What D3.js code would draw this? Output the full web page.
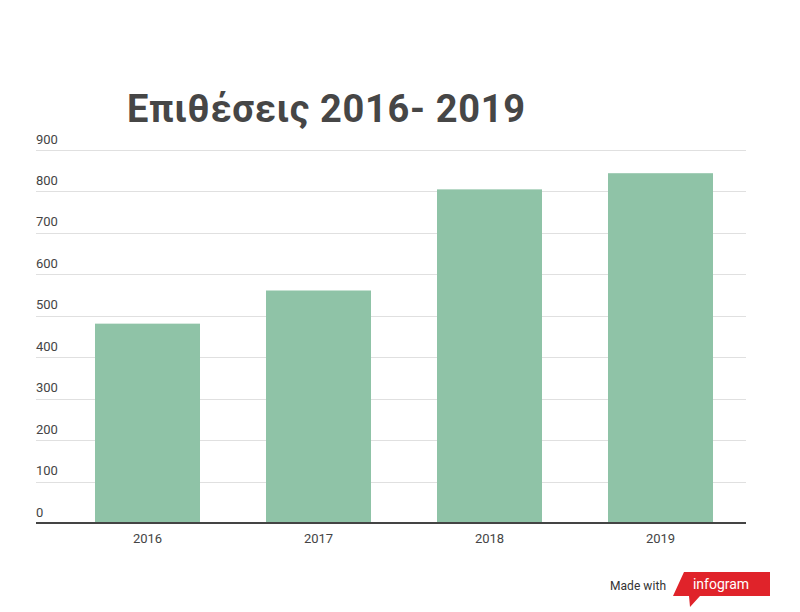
<!DOCTYPE html>
<html><head><meta charset="utf-8">
<script src="https://cdn.jsdelivr.net/npm/d3@7"></script>
<style>body{margin:0;background:#fff}svg{display:block}</style>
</head><body>
<script>
const categories = ["2016","2017","2018","2019"];
const values = [481, 561, 805, 844];
const yTicks = [0,100,200,300,400,500,600,700,800,900];
const title = "Επιθέσεις 2016- 2019";

const W=800,H=612;
const svg=d3.select("body").append("svg").attr("width",W).attr("height",H);
const y=d3.scaleLinear().domain([0,900]).range([523,150]);
const x=d3.scaleBand().domain(categories).range([62,746]).paddingInner(0.386).paddingOuter(0.193);

svg.append("text").attr("x",127).attr("y",122).text(title)
  .attr("font-family","Roboto").attr("font-weight",700).attr("font-size",38).attr("fill","#464646")
  .attr("textLength",398).attr("lengthAdjust","spacing");

const g=svg.append("g");
g.selectAll("line.grid").data(yTicks.filter(d=>d>0)).join("line").attr("class","grid")
  .attr("x1",36).attr("x2",746).attr("y1",d=>Math.round(y(d))+0.5).attr("y2",d=>Math.round(y(d))+0.5)
  .attr("stroke","#e0e0e0").attr("stroke-width",1);
g.selectAll("text.yl").data(yTicks).join("text").attr("class","yl")
  .attr("x",36).attr("y",d=>y(d)-6.5).text(d=>d)
  .attr("font-family","Roboto").attr("font-weight",400).attr("font-size",13).attr("fill","#444");

g.selectAll("rect").data(values).join("rect")
  .attr("x",(d,i)=>x(categories[i])).attr("width",x.bandwidth())
  .attr("y",d=>y(d)).attr("height",d=>y(0)-y(d)).attr("fill","#8fc3a7");

g.append("line").attr("x1",36).attr("x2",746).attr("y1",y(0)).attr("y2",y(0))
  .attr("stroke","#444").attr("stroke-width",2);

const xa=svg.append("g").attr("transform",`translate(0,${y(0)})`)
  .call(d3.axisBottom(x).tickSize(0).tickPadding(11));
xa.select(".domain").remove();
xa.selectAll("text").attr("font-family","Roboto").attr("font-size",13).attr("fill","#444");

// logo
const lg=svg.append("g");
lg.append("text").attr("x",610).attr("y",590).text("Made with")
  .attr("font-family","Roboto").attr("font-size",12).attr("fill","#333").attr("textLength",56);
lg.append("path").attr("d","M684,572 L770,572 L770,596 L700,596 L690,607 L689,596 L673,596 Z").attr("fill","#e0232a");
lg.append("text").attr("x",721).attr("y",589).attr("text-anchor","middle").text("infogram")
  .attr("font-family","Roboto").attr("font-size",14).attr("fill","#fff");
</script>
</body></html>
